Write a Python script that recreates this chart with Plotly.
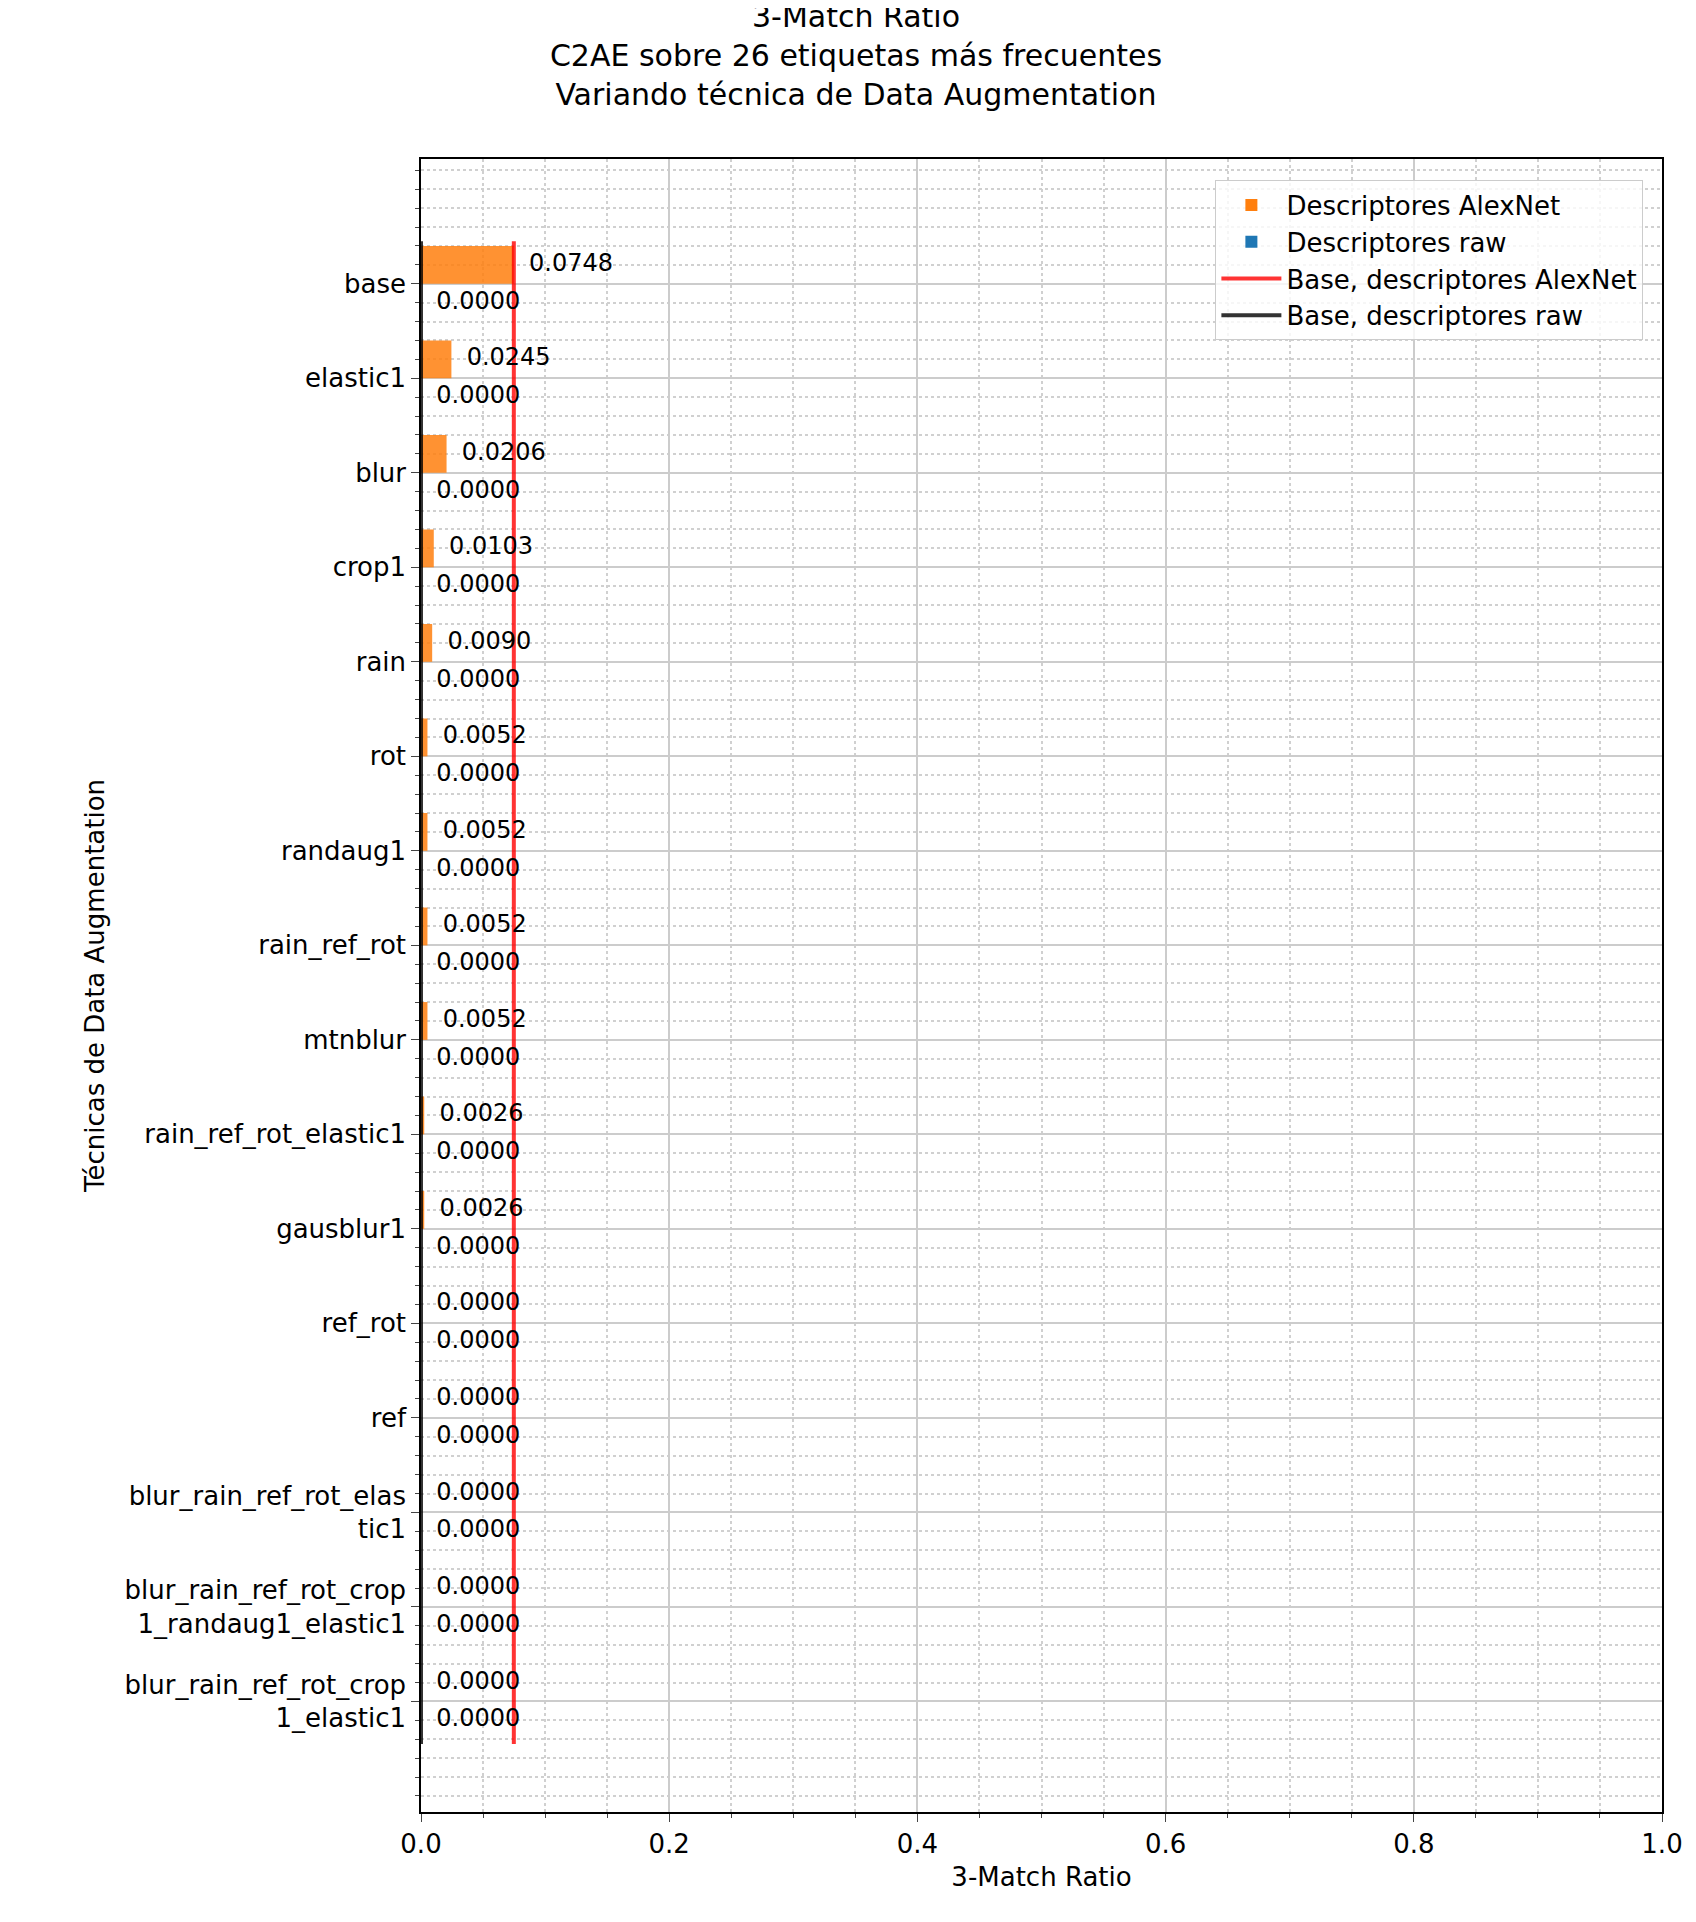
import plotly.graph_objects as go

categories = ["base", "elastic1", "blur", "crop1", "rain", "rot", "randaug1", "rain_ref_rot",
              "mtnblur", "rain_ref_rot_elastic1", "gausblur1", "ref_rot", "ref",
              "blur_rain_ref_rot_elas<br>tic1", "blur_rain_ref_rot_crop<br>1_randaug1_elastic1",
              "blur_rain_ref_rot_crop<br>1_elastic1"]
alexnet = [0.0748, 0.0245, 0.0206, 0.0103, 0.0090, 0.0052, 0.0052, 0.0052,
           0.0052, 0.0026, 0.0026, 0.0, 0.0, 0.0, 0.0, 0.0]
raw = [0.0] * len(categories)
base_alexnet = 0.0748
base_raw = 0.0

n = len(categories)
pos = [n - 1 - i for i in range(n)]
FONT = "DejaVu Sans"

fig = go.Figure()
fig.add_trace(go.Bar(y=[p + 0.2 for p in pos], x=alexnet, orientation="h", width=0.4,
                     marker=dict(color="#ff7f0e", opacity=0.85, line_width=0),
                     name="Descriptores AlexNet"))
fig.add_trace(go.Bar(y=[p - 0.2 for p in pos], x=raw, orientation="h", width=0.4,
                     marker=dict(color="#1f77b4", opacity=0.9, line_width=0),
                     name="Descriptores raw"))
fig.add_trace(go.Scatter(x=[base_alexnet, base_alexnet], y=[-0.45, n - 1 + 0.45], mode="lines",
                         line=dict(color="rgba(255,0,0,0.8)", width=4),
                         name="Base, descriptores AlexNet"))
fig.add_trace(go.Scatter(x=[base_raw, base_raw], y=[-0.45, n - 1 + 0.45], mode="lines",
                         line=dict(color="rgba(0,0,0,0.8)", width=4),
                         name="Base, descriptores raw"))
fig.add_trace(go.Scatter(x=alexnet, y=[p + 0.2 for p in pos], mode="text",
                         text=[f"  {v:.4f}" for v in alexnet], textposition="middle right",
                         textfont=dict(size=24, color="black", family=FONT), showlegend=False))
fig.add_trace(go.Scatter(x=raw, y=[p - 0.2 for p in pos], mode="text",
                         text=[f"  {v:.4f}" for v in raw], textposition="middle right",
                         textfont=dict(size=24, color="black", family=FONT), showlegend=False))

fig.update_layout(
    width=1696, height=1922,
    plot_bgcolor="white", paper_bgcolor="white",
    font=dict(family=FONT, size=26, color="black"),
    title=dict(text="3-Match Ratio<br>C2AE sobre 26 etiquetas más frecuentes<br>Variando técnica de Data Augmentation",
               x=0.5, xanchor="center", y=0.99, yanchor="top", yref="container",
               font=dict(size=30)),
    margin=dict(l=413, r=42, t=151, b=118),
    barmode="overlay",
    legend=dict(x=0.985, y=0.987, xanchor="right", yanchor="top", bordercolor="#cccccc",
                borderwidth=1, bgcolor="rgba(255,255,255,0.8)", font=dict(size=26),
                itemwidth=60),
    xaxis=dict(range=[0, 1], dtick=0.2, tickformat=".1f", showline=True, mirror=True,
               linecolor="black", linewidth=1.5, ticks="outside", ticklen=8,
               showgrid=True, gridcolor="#cccccc", gridwidth=1.5, zeroline=False,
               title=dict(text="3-Match Ratio", font=dict(size=26), standoff=10),
               minor=dict(dtick=0.05, ticks="outside", ticklen=4, showgrid=True,
                          gridcolor="#d0d0d0", griddash="dot")),
    yaxis=dict(range=[-1.17, n - 1 + 1.32], tickvals=pos, ticktext=categories,
               showline=True, mirror=True, linecolor="black", linewidth=1.5,
               ticks="outside", ticklen=8, showgrid=True, gridcolor="#cccccc",
               gridwidth=1.5, zeroline=False,
               title=dict(text="Técnicas de Data Augmentation", font=dict(size=26), standoff=12),
               minor=dict(dtick=0.2, tick0=0, ticks="outside", ticklen=4, showgrid=True,
                          gridcolor="#d0d0d0", griddash="dot")),
)

fig.write_html("out.html")
